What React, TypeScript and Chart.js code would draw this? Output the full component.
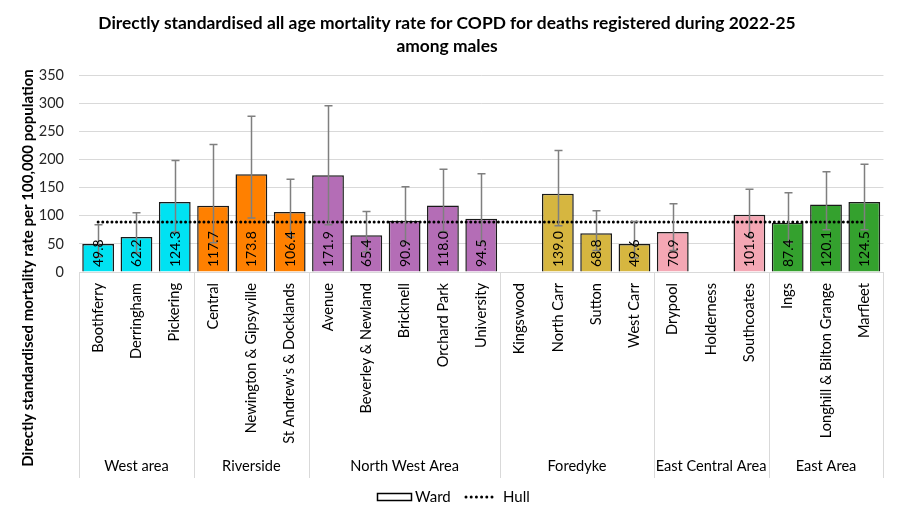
import React, { useEffect, useRef } from 'react';
import { Chart, registerables } from 'chart.js';

Chart.register(...registerables);

const wards = [
  'Boothferry', 'Derringham', 'Pickering',
  'Central', 'Newington & Gipsyville', "St Andrew's & Docklands",
  'Avenue', 'Beverley & Newland', 'Bricknell', 'Orchard Park', 'University',
  'Kingswood', 'North Carr', 'Sutton', 'West Carr',
  'Drypool', 'Holderness', 'Southcoates',
  'Ings', 'Longhill & Bilton Grange', 'Marfleet',
];
const areas = ['West area', 'Riverside', 'North West Area', 'Foredyke', 'East Central Area', 'East Area'];
const areaSizes = [3, 3, 5, 4, 3, 3];
const areaColours = ['#00E2F2', '#FF8000', '#B46DB6', '#D6B640', '#F4A7B4', '#34A12E'];

const rates = [49.8, 62.2, 124.3, 117.7, 173.8, 106.4, 171.9, 65.4, 90.9, 118.0, 94.5, null, 139.0, 68.8, 49.6, 70.9, null, 101.6, 87.4, 120.1, 124.5];
const lowerCI = [27, 34, 71, 52, 95.8, 62, 84, 36, 52, 72, 52, null, 82, 38, 25, 38, null, 63, 52, 75, 75];
const upperCI = [83.9, 105.2, 198, 226.4, 276.7, 165, 295.5, 107.5, 151.3, 182.7, 174.4, null, 215.7, 108.7, 89.8, 121.2, null, 147.2, 140.7, 178, 191.6];
const hullRate = 88.7;

const yMin = 0;
const yMax = 350;
const yStep = 50;

const FONT = 'Lato';

const barColours: string[] = [];
areaSizes.forEach((n, a) => { for (let k = 0; k < n; k++) barColours.push(areaColours[a]); });

const overlayPlugin = {
  id: 'overlay',
  afterDatasetsDraw(chart: any) {
    const { ctx, chartArea, scales } = chart;
    const xs = scales.x;
    const ys = scales.y;
    ctx.save();
    // error bars
    ctx.strokeStyle = '#7F7F7F';
    ctx.lineWidth = 1.5;
    for (let i = 0; i < rates.length; i++) {
      if (rates[i] == null || upperCI[i] == null || lowerCI[i] == null) continue;
      const x = Math.round(xs.getPixelForValue(i)) + 0.5;
      const yu = ys.getPixelForValue(upperCI[i]);
      const yl = ys.getPixelForValue(lowerCI[i]);
      ctx.beginPath();
      ctx.moveTo(x, yu);
      ctx.lineTo(x, yl);
      ctx.moveTo(x - 4, yu);
      ctx.lineTo(x + 4, yu);
      ctx.moveTo(x - 4, yl);
      ctx.lineTo(x + 4, yl);
      ctx.stroke();
    }
    // data labels
    ctx.fillStyle = '#000';
    ctx.font = `14px ${FONT}`;
    ctx.textAlign = 'left';
    ctx.textBaseline = 'middle';
    for (let i = 0; i < rates.length; i++) {
      if (rates[i] == null) continue;
      const x = xs.getPixelForValue(i);
      const y = chartArea.bottom - 5;
      ctx.save();
      ctx.translate(x + 0.5, y);
      ctx.rotate(-Math.PI / 2);
      ctx.fillText((rates[i] as number).toFixed(1), 0, 0);
      ctx.restore();
    }
    ctx.restore();
  },
  afterDraw(chart: any) {
    const { ctx, chartArea, scales } = chart;
    const xs = scales.x;
    const catW = (chartArea.right - chartArea.left) / wards.length;
    const top = chartArea.bottom;
    const bottom = 470;
    ctx.save();
    // group separators
    ctx.strokeStyle = '#D9D9D9';
    ctx.lineWidth = 1;
    let idx = 0;
    const bounds: number[] = [0];
    areaSizes.forEach((n) => { idx += n; bounds.push(idx); });
    bounds.forEach((b) => {
      const x = Math.round(xs.getPixelForValue(b) - catW / 2) + 0.5;
      ctx.beginPath();
      ctx.moveTo(x, top);
      ctx.lineTo(x, bottom);
      ctx.stroke();
    });
    // group labels
    ctx.fillStyle = '#000';
    ctx.font = `14.6px ${FONT}`;
    ctx.textAlign = 'center';
    ctx.textBaseline = 'middle';
    for (let a = 0; a < areas.length; a++) {
      const x0 = xs.getPixelForValue(bounds[a]) - catW / 2;
      const x1 = xs.getPixelForValue(bounds[a + 1]) - catW / 2;
      ctx.fillText(areas[a], (x0 + x1) / 2, 458);
    }
    // title
    ctx.font = `bold 17.4px ${FONT}`;
    ctx.fillText('Directly standardised all age mortality rate for COPD for deaths registered during 2022-25', 439, 15);
    ctx.fillText('among males', 439, 38);
    // y title
    ctx.save();
    ctx.translate(20, 260);
    ctx.rotate(-Math.PI / 2);
    ctx.font = `bold 15px ${FONT}`;
    ctx.fillText('Directly standardised mortality rate per 100,000 population', 0, 0);
    ctx.restore();
    // legend
    const ly = 489;
    ctx.fillStyle = '#FFFFFF';
    ctx.strokeStyle = '#000';
    ctx.lineWidth = 1.5;
    ctx.fillRect(369.5, ly - 3.5, 34, 7);
    ctx.strokeRect(369.5, ly - 3.5, 34, 7);
    ctx.fillStyle = '#000';
    ctx.font = `15px ${FONT}`;
    ctx.textAlign = 'left';
    ctx.fillText('Ward', 407, ly);
    ctx.lineWidth = 3;
    ctx.lineCap = 'round';
    ctx.setLineDash([0, 5.2]);
    ctx.beginPath();
    ctx.moveTo(458, ly);
    ctx.lineTo(489, ly);
    ctx.stroke();
    ctx.setLineDash([]);
    ctx.fillText('Hull', 495, ly);
    ctx.restore();
  },
};

export default function App() {
  const ref = useRef<HTMLCanvasElement | null>(null);
  useEffect(() => {
    if (!ref.current) return;
    const chart = new Chart(ref.current, {
      type: 'bar',
      data: {
        labels: wards,
        datasets: [
          {
            type: 'line',
            label: 'Hull',
            data: wards.map(() => hullRate),
            borderColor: '#000',
            borderWidth: 3,
            borderDash: [0, 4.6],
            borderCapStyle: 'round',
            pointRadius: 0,
            fill: false,
            order: 0,
          } as any,
          {
            type: 'bar',
            label: 'Ward',
            data: rates,
            backgroundColor: barColours,
            borderColor: '#1A1A1A',
            borderWidth: 1.5,
            categoryPercentage: 1,
            barPercentage: 0.83,
            order: 1,
          } as any,
        ],
      },
      options: {
        animation: false,
        responsive: true,
        maintainAspectRatio: false,
        layout: { padding: { top: 67, right: 7, left: 0, bottom: 0 } },
        plugins: {
          legend: { display: false },
          title: { display: false },
          tooltip: { enabled: false },
        },
        scales: {
          x: {
            grid: { display: false, drawTicks: false },
            border: { display: false },
            ticks: {
              autoSkip: false,
              minRotation: 90,
              maxRotation: 90,
              padding: 11,
              color: '#000',
              font: { family: FONT, size: 14.6 },
            },
            afterFit(scale: any) { scale.height = 239; },
          },
          y: {
            min: yMin,
            max: yMax,
            grid: { color: '#D9D9D9', lineWidth: 1, drawTicks: false },
            border: { display: false },
            ticks: {
              stepSize: yStep,
              padding: 15,
              color: '#262626',
              font: { family: FONT, size: 14.5 },
            },
            afterFit(scale: any) { scale.width = 71; },
          },
        },
      } as any,
      plugins: [overlayPlugin],
    });
    return () => chart.destroy();
  }, []);
  return (
    <div style={{ width: 885, height: 503 }}>
      <canvas ref={ref} />
    </div>
  );
}
